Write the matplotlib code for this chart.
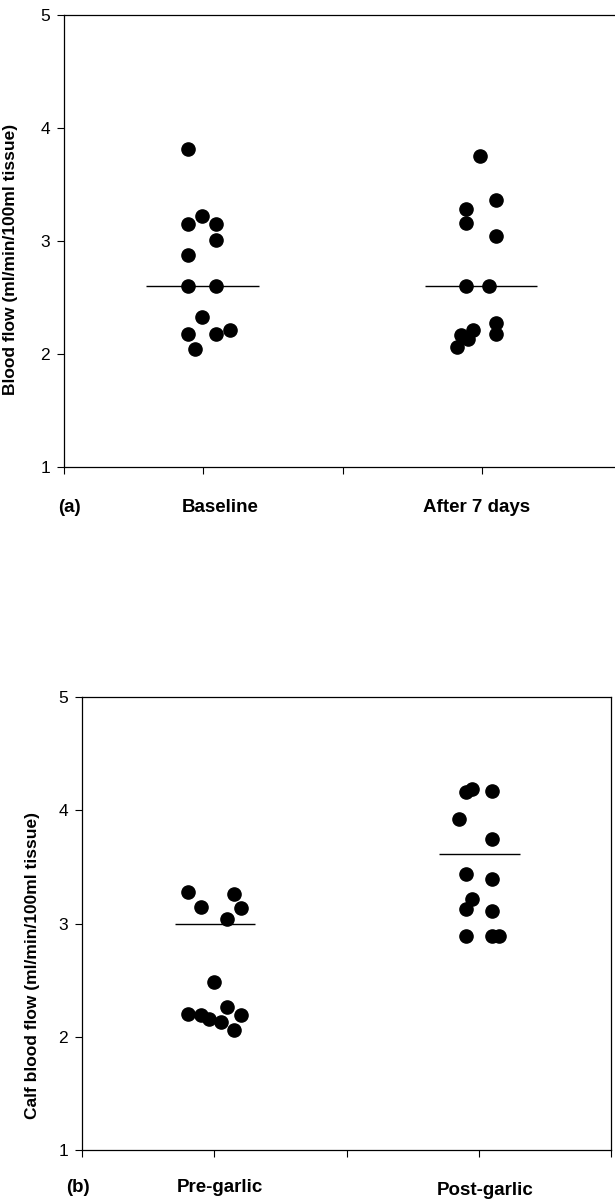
import matplotlib
matplotlib.use('Agg')
import matplotlib.pyplot as plt

plt.rcParams['font.family'] = ['Liberation Sans', 'DejaVu Sans']

# (a) blood flow, baseline vs after 7 days
a_labels = ['Baseline', 'After 7 days']
a_pos = [1, 3]
baseline_y = [3.81, 3.22, 3.15, 3.15, 3.01, 2.88, 2.60, 2.60, 2.33, 2.18, 2.18, 2.21, 2.04]
baseline_x = [0.89, 0.99, 0.89, 1.09, 1.09, 0.89, 0.89, 1.09, 0.99, 0.89, 1.09, 1.19, 0.94]
after_y = [3.75, 3.36, 3.28, 3.16, 3.04, 2.60, 2.60, 2.27, 2.18, 2.21, 2.17, 2.13, 2.06]
after_x = [2.99, 3.10, 2.89, 2.89, 3.10, 2.89, 3.05, 3.10, 3.10, 2.94, 2.85, 2.90, 2.82]
a_median = [2.60, 2.60]

# (b) calf blood flow, pre vs post garlic
b_labels = ['Pre-garlic', 'Post-garlic']
b_pos = [1, 3]
pre_y = [3.28, 3.15, 3.26, 3.14, 3.04, 2.48, 2.20, 2.19, 2.16, 2.13, 2.26, 2.19, 2.06]
pre_x = [0.80, 0.90, 1.15, 1.20, 1.10, 1.00, 0.80, 0.90, 0.96, 1.05, 1.10, 1.20, 1.15]
post_y = [4.16, 4.19, 4.17, 3.92, 3.75, 3.44, 3.39, 3.22, 3.13, 3.11, 2.89, 2.89, 2.89]
post_x = [2.90, 2.95, 3.10, 2.85, 3.10, 2.90, 3.10, 2.95, 2.90, 3.10, 2.90, 3.10, 3.15]
b_mean = [3.00, 3.61]

fig = plt.figure(figsize=(6.15, 12.02), dpi=100)
ax1 = fig.add_axes([64/615, 1 - 467/1202, 557/615, 452/1202])
ax2 = fig.add_axes([82/615, 1 - 1150/1202, 529/615, 453/1202])

lab_font = dict(fontweight='bold', fontsize=13.5)
ylab_font = dict(fontweight='bold', fontsize=12.5)


def setup(ax):
    ax.set_xlim(0, 4)
    ax.set_ylim(1, 5)
    ax.set_yticks([1, 2, 3, 4, 5])
    ax.set_xticks([0, 1, 2, 3, 4])
    ax.set_xticklabels([])
    ax.tick_params(axis='y', direction='out', length=5, width=0.8, labelsize=12.5, pad=5)
    ax.tick_params(axis='x', direction='out', length=5, width=0.8)
    for s in ax.spines.values():
        s.set_linewidth(0.9)


setup(ax1)
ax1.plot(baseline_x, baseline_y, 'o', color='black', markersize=9.5)
ax1.plot(after_x, after_y, 'o', color='black', markersize=9.5)
for p, m in zip(a_pos, a_median):
    ax1.hlines(m, p - 0.41, p + 0.40, color='black', linewidth=1)
ax1.set_ylabel('Blood flow (ml/min/100ml tissue)', **ylab_font)
ax1.yaxis.set_label_coords(-0.083, 0.46)
ax1.annotate('(a)', xy=(0.04, 0), xycoords=('data', 'axes fraction'),
             xytext=(0, -29.5), textcoords='offset points', ha='center', va='center', **lab_font)
ax1.annotate(a_labels[0], xy=(1.12, 0), xycoords=('data', 'axes fraction'),
             xytext=(0, -29.5), textcoords='offset points', ha='center', va='center', **lab_font)
ax1.annotate(a_labels[1], xy=(2.96, 0), xycoords=('data', 'axes fraction'),
             xytext=(0, -29.5), textcoords='offset points', ha='center', va='center', **lab_font)

setup(ax2)
ax2.plot(pre_x, pre_y, 'o', color='black', markersize=9.5)
ax2.plot(post_x, post_y, 'o', color='black', markersize=9.5)
for p, m in zip(b_pos, b_mean):
    ax2.hlines(m, p - 0.30, p + 0.31, color='black', linewidth=1)
ax2.set_ylabel('Calf blood flow (ml/min/100ml tissue)', **ylab_font)
ax2.yaxis.set_label_coords(-0.079, 0.408)
ax2.annotate('(b)', xy=(-0.03, 0), xycoords=('data', 'axes fraction'),
             xytext=(0, -27), textcoords='offset points', ha='center', va='center', **lab_font)
ax2.annotate(b_labels[0], xy=(1.04, 0), xycoords=('data', 'axes fraction'),
             xytext=(0, -27), textcoords='offset points', ha='center', va='center', **lab_font)
ax2.annotate(b_labels[1], xy=(3.05, 0), xycoords=('data', 'axes fraction'),
             xytext=(0, -29), textcoords='offset points', ha='center', va='center', **lab_font)

fig.savefig('out.png', dpi=100)
